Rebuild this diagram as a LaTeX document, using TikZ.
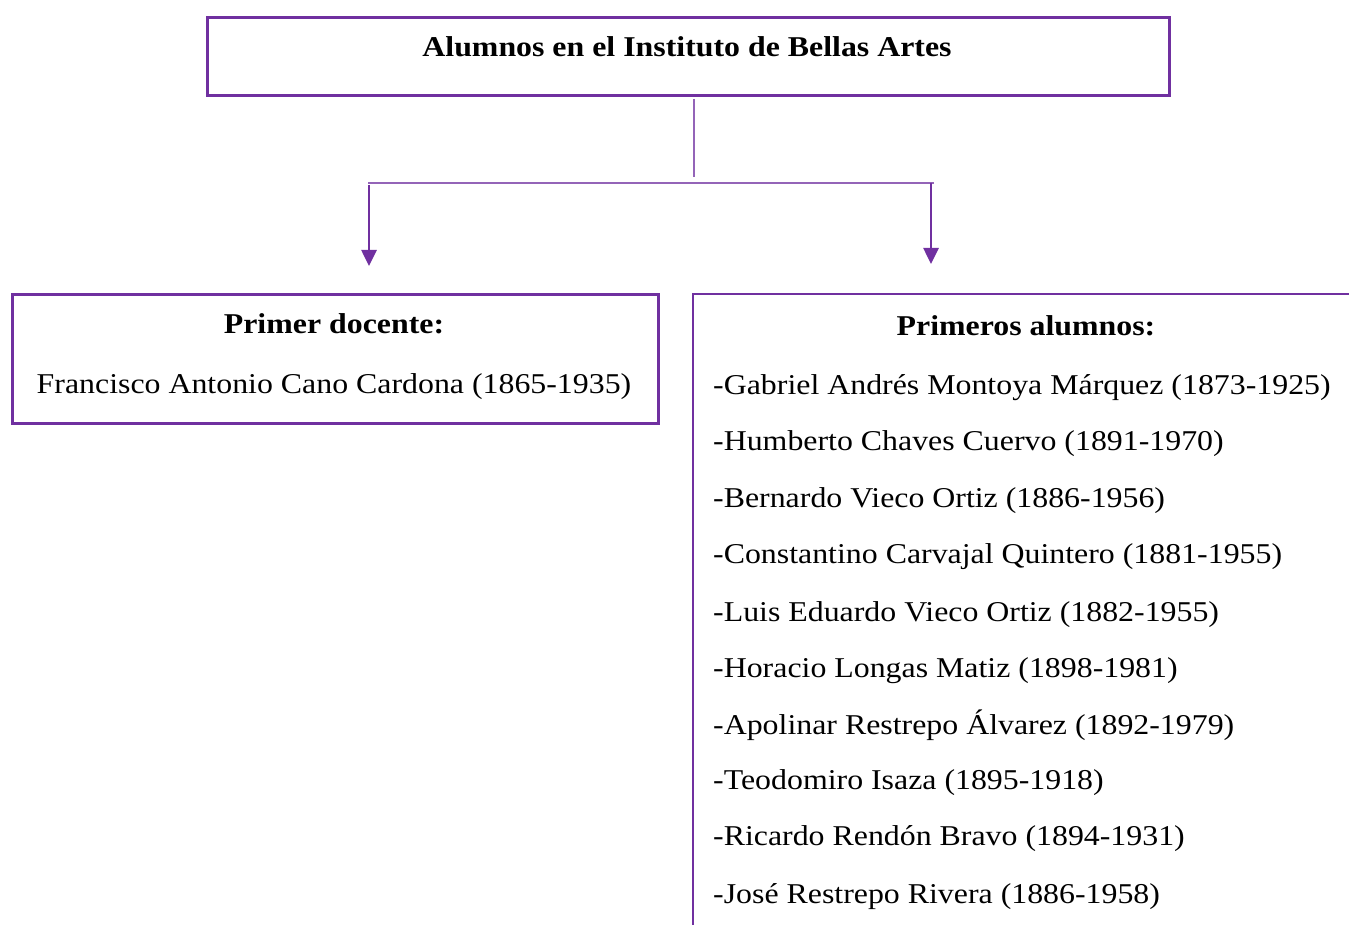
\documentclass[tikz,border=0pt]{standalone}
\usepackage{fontspec}
\setmainfont{Liberation Serif}[FakeStretch=1.11]
\usetikzlibrary{arrows.meta}
\definecolor{purp}{HTML}{7030A0}
\begin{document}
\begin{tikzpicture}[x=1pt,y=-1pt,
  boxline/.style={draw=purp,line width=2.6pt},
  conn/.style={draw=purp!75,line width=1.6pt},
  arr/.style={draw=purp,line width=2.6pt,-{Triangle[width=15pt,length=16pt]}},
  txt/.style={font=\fontsize{28.7}{34}\selectfont,inner sep=0pt},
  btxt/.style={font=\fontsize{28.7}{34}\selectfont\bfseries,inner sep=0pt}]
\useasboundingbox (0,0) rectangle (1349,925);
% boxes
\node[boxline,minimum width=962pt,minimum height=78pt,inner sep=0pt,anchor=north west] (top) at (206,16) {};
\node[boxline,minimum width=646pt,minimum height=129pt,inner sep=0pt,anchor=north west] (left) at (11,293) {};
\node[minimum width=658pt,minimum height=633pt,inner sep=0pt,anchor=north west] (right) at (693,294) {};
\draw[boxline] (right.north east) -- (right.north west) -- (right.south west);
% texts
\node[btxt,anchor=base] (title) at (687,56.5) {Alumnos en el Instituto de Bellas Artes};
\node[btxt,anchor=base] (lhead) at (334,333) {Primer docente:};
\node[txt,anchor=base] (lname) at (334,393) {Francisco Antonio Cano Cardona (1865-1935)};
\node[btxt,anchor=base] (rhead) at (1026,335) {Primeros alumnos:};
\node[txt,anchor=base west] (s1) at (713,394) {-Gabriel Andrés Montoya Márquez (1873-1925)};
\node[txt,anchor=base west] (s2) at (713,450) {-Humberto Chaves Cuervo (1891-1970)};
\node[txt,anchor=base west] (s3) at (713,507) {-Bernardo Vieco Ortiz (1886-1956)};
\node[txt,anchor=base west] (s4) at (713,563) {-Constantino Carvajal Quintero (1881-1955)};
\node[txt,anchor=base west] (s5) at (713,621) {-Luis Eduardo Vieco Ortiz (1882-1955)};
\node[txt,anchor=base west] (s6) at (713,677) {-Horacio Longas Matiz (1898-1981)};
\node[txt,anchor=base west] (s7) at (713,734) {-Apolinar Restrepo Álvarez (1892-1979)};
\node[txt,anchor=base west] (s8) at (713,789) {-Teodomiro Isaza (1895-1918)};
\node[txt,anchor=base west] (s9) at (713,845) {-Ricardo Rendón Bravo (1894-1931)};
\node[txt,anchor=base west] (s10) at (713,903) {-José Restrepo Rivera (1886-1958)};
% connectors
\coordinate (vtop) at (694,99);
\coordinate (vbot) at (694,177);
\coordinate (hl) at (368,183);
\coordinate (hr) at (934,183);
\coordinate (al) at (369,185);
\coordinate (alend) at (369,266);
\coordinate (ar) at (931,183);
\coordinate (arend) at (931,264);
\draw[conn] (vtop) -- (vbot);
\draw[conn] (hl) -- (hr);
\draw[arr] (al) -- (alend);
\draw[arr] (ar) -- (arend);
\end{tikzpicture}
\end{document}
